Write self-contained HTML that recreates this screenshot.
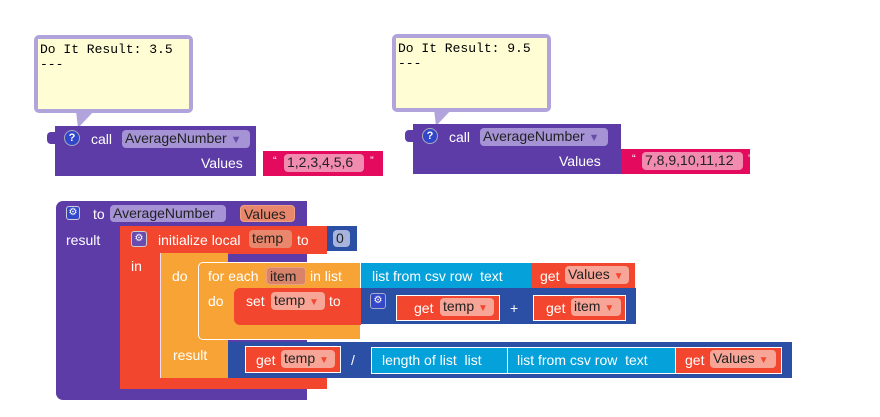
<!DOCTYPE html>
<html><head><meta charset="utf-8"><style>
body{margin:0;width:880px;height:417px;background:#fff;position:relative;overflow:hidden;font-family:"Liberation Sans",sans-serif;}
div{position:absolute;box-sizing:border-box;}
.t{color:#fff;font-size:14px;white-space:nowrap;line-height:16px;}
.f{border-radius:4px;font-size:14px;color:#222;line-height:17px;padding:0 3px;white-space:nowrap;}
.mono{font-family:"Liberation Mono",monospace;font-size:13px;color:#000;line-height:15px;}
.wb{border:1px solid #fff;}
</style></head><body>

<svg style="position:absolute;left:0;top:0" width="880" height="417">
<path d="M76 111 L78 128 L94 111 Z" fill="#b1a4dd"/>
<path d="M434 109 L436 126 L452 109 Z" fill="#b1a4dd"/>
</svg>
<div style="left:34px;top:35px;width:159px;height:78px;background:#b1a4dd;border-radius:5px;"></div>
<div style="left:38px;top:39px;width:151px;height:70px;background:#fefdd4;"></div>
<div class="mono" style="left:40px;top:42px;">Do It Result: 3.5<br>---</div>

<div style="left:392px;top:34px;width:159px;height:78px;background:#b1a4dd;border-radius:5px;"></div>
<div style="left:396px;top:38px;width:151px;height:70px;background:#fefdd4;"></div>
<div class="mono" style="left:398px;top:41px;">Do It Result: 9.5<br>---</div>

<!-- call 1 -->
<div style="left:55px;top:126px;width:201px;height:50px;background:#5d3ca8;"></div>
<div style="left:47px;top:132px;width:10px;height:12px;background:#5d3ca8;border-radius:4px 0 0 4px;"></div>
<div style="left:64px;top:130px;width:16px;height:16px;border-radius:50%;background:#3146c8;border:1px solid #aab;color:#fff;font-size:11px;font-weight:bold;text-align:center;line-height:14px;">?</div>
<div class="t" style="left:91px;top:131px;">call</div>
<div class="f" style="left:122px;top:130px;width:128px;height:18px;background:#a593d6;">AverageNumber <span style="color:#6550a8;font-size:11px">▼</span></div>
<div class="t" style="left:201px;top:155px;">Values</div>
<div style="left:263px;top:151px;width:120px;height:25px;background:#e40a5d;"></div>
<div class="t" style="left:273px;top:153px;font-size:11px;">“</div>
<div class="f" style="left:284px;top:154px;width:80px;height:18px;background:#f28bb0;">1,2,3,4,5,6</div>
<div class="t" style="left:370px;top:153px;font-size:11px;">”</div>

<!-- call 2 -->
<div style="left:413px;top:124px;width:208px;height:50px;background:#5d3ca8;"></div>
<div style="left:405px;top:130px;width:10px;height:12px;background:#5d3ca8;border-radius:4px 0 0 4px;"></div>
<div style="left:422px;top:128px;width:16px;height:16px;border-radius:50%;background:#3146c8;border:1px solid #aab;color:#fff;font-size:11px;font-weight:bold;text-align:center;line-height:14px;">?</div>
<div class="t" style="left:449px;top:129px;">call</div>
<div class="f" style="left:480px;top:128px;width:128px;height:18px;background:#a593d6;">AverageNumber <span style="color:#6550a8;font-size:11px">▼</span></div>
<div class="t" style="left:559px;top:153px;">Values</div>
<div style="left:621px;top:149px;width:129px;height:25px;background:#e40a5d;"></div>
<div class="t" style="left:632px;top:151px;font-size:11px;">“</div>
<div class="f" style="left:642px;top:152px;width:101px;height:18px;background:#f28bb0;">7,8,9,10,11,12</div>
<div class="t" style="left:748px;top:151px;font-size:11px;">”</div>

<!-- procedure -->
<div style="left:56px;top:201px;width:251px;height:199px;background:#5d3ca8;border-radius:7px 0 0 7px;"></div>
<div style="left:66px;top:206px;width:14px;height:14px;border-radius:3px;background:#3347c9;border:1px solid #ccd;color:#fff;font-size:10px;text-align:center;line-height:12px;">⚙</div>
<div class="t" style="left:93px;top:206px;">to</div>
<div class="f" style="left:110px;top:205px;width:116px;height:17px;background:#a593d6;">AverageNumber</div>
<div class="f" style="left:240px;top:205px;width:55px;height:17px;background:#e8876c;border:1px solid #f0a080;">Values</div>
<div class="t" style="left:66px;top:232px;">result</div>

<!-- init local -->
<div style="left:120px;top:226px;width:207px;height:28px;background:#f2462e;border-left:1px solid #f9a;"></div>
<div style="left:120px;top:226px;width:40px;height:163px;background:#f2462e;"></div>
<div style="left:120px;top:378px;width:207px;height:11px;background:#f2462e;"></div>
<div style="left:131px;top:231px;width:16px;height:16px;border-radius:3px;background:#6a4bb0;border:1px solid #ccc;color:#fff;font-size:10px;text-align:center;line-height:14px;">⚙</div>
<div class="t" style="left:158px;top:232px;">initialize local</div>
<div class="f" style="left:249px;top:230px;width:43px;height:18px;background:#e8876c;">temp</div>
<div class="t" style="left:297px;top:232px;">to</div>
<div style="left:327px;top:226px;width:30px;height:25px;background:#2b4fa5;"></div>
<div class="f" style="left:333px;top:230px;width:17px;height:17px;background:#a7b4dc;">0</div>
<div class="t" style="left:131px;top:258px;">in</div>

<!-- orange do/result -->
<div style="left:160px;top:253px;width:68px;height:125px;background:#f8a336;border-left:1px solid #fde;"></div>
<div style="left:198px;top:262px;width:163px;height:78px;background:#f8a336;border:1px solid #fff;border-radius:5px 0 0 5px;"></div>
<div class="t" style="left:172px;top:268px;">do</div>
<div class="t" style="left:208px;top:268px;">for each</div>
<div class="f" style="left:266px;top:267px;width:40px;height:18px;background:#d9836a;border:1px solid #e8a080;">item</div>
<div class="t" style="left:310px;top:268px;">in list</div>
<div class="t" style="left:208px;top:293px;">do</div>
<div class="t" style="left:173px;top:347px;">result</div>

<div style="left:361px;top:263px;width:170px;height:26px;background:#05a1da;"></div>
<div class="t" style="left:372px;top:268px;">list from csv row &nbsp;text</div>
<div style="left:531px;top:263px;width:104px;height:26px;background:#f2462e;"></div>
<div class="t" style="left:540px;top:268px;">get</div>
<div class="f" style="left:565px;top:266px;width:64px;height:18px;background:#f7a597;">Values <span style="color:#f2462e;font-size:10px">▼</span></div>

<!-- set -->
<div style="left:234px;top:288px;width:127px;height:37px;background:#f2462e;border-radius:6px 0 0 6px;"></div>
<div class="t" style="left:246px;top:293px;">set</div>
<div class="f" style="left:271px;top:292px;width:54px;height:18px;background:#f7a597;">temp <span style="color:#f2462e;font-size:10px">▼</span></div>
<div class="t" style="left:329px;top:293px;">to</div>
<div style="left:361px;top:288px;width:275px;height:36px;background:#2b4fa5;"></div>
<div style="left:370px;top:293px;width:16px;height:16px;border-radius:3px;background:#3347c9;border:1px solid #aac;color:#fff;font-size:10px;text-align:center;line-height:14px;">⚙</div>
<div class="wb" style="left:396px;top:295px;width:104px;height:26px;background:#f2462e;"></div>
<div class="t" style="left:414px;top:300px;">get</div>
<div class="f" style="left:440px;top:298px;width:54px;height:18px;background:#f7a597;">temp <span style="color:#f2462e;font-size:10px">▼</span></div>
<div class="t" style="left:510px;top:300px;">+</div>
<div class="wb" style="left:533px;top:295px;width:93px;height:26px;background:#f2462e;"></div>
<div class="t" style="left:546px;top:300px;">get</div>
<div class="f" style="left:571px;top:298px;width:50px;height:18px;background:#f7a597;">item <span style="color:#f2462e;font-size:10px">▼</span></div>

<!-- division -->
<div style="left:228px;top:342px;width:564px;height:36px;background:#2b4fa5;"></div>
<div class="wb" style="left:245px;top:346px;width:96px;height:27px;background:#f2462e;"></div>
<div class="t" style="left:256px;top:352px;">get</div>
<div class="f" style="left:281px;top:350px;width:54px;height:18px;background:#f7a597;">temp <span style="color:#f2462e;font-size:10px">▼</span></div>
<div class="t" style="left:351px;top:352px;">/</div>
<div class="wb" style="left:371px;top:347px;width:137px;height:27px;background:#05a1da;"></div>
<div class="t" style="left:382px;top:352px;">length of list &nbsp;list</div>
<div class="wb" style="left:507px;top:347px;width:169px;height:27px;background:#05a1da;"></div>
<div class="t" style="left:517px;top:352px;">list from csv row &nbsp;text</div>
<div class="wb" style="left:675px;top:347px;width:107px;height:27px;background:#f2462e;"></div>
<div class="t" style="left:685px;top:352px;">get</div>
<div class="f" style="left:710px;top:350px;width:66px;height:18px;background:#f7a597;">Values <span style="color:#f2462e;font-size:10px">▼</span></div>

</body></html>
